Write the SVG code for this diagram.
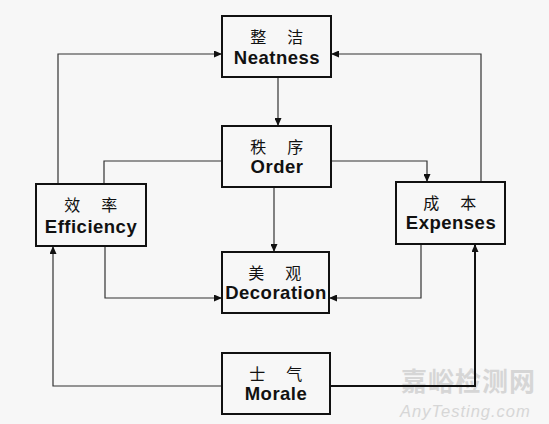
<svg xmlns="http://www.w3.org/2000/svg" width="549" height="424" viewBox="0 0 549 424">
<defs>
<marker id="ah" markerUnits="userSpaceOnUse" markerWidth="8" markerHeight="7" refX="8" refY="3.5" orient="auto">
<path d="M0,0 L8,3.5 L0,7 z" fill="#111"/>
</marker>
<style>
.box{fill:#f7f7f7;stroke:#111;stroke-width:2}
.zh{font-family:"Noto Sans CJK SC","Noto Sans CJK JP",sans-serif;font-size:16px;fill:#111;text-anchor:middle;letter-spacing:2.5px}
.en{font-family:"Liberation Sans",Arial,sans-serif;font-weight:bold;font-size:18.5px;letter-spacing:0.5px;fill:#111;text-anchor:middle}
.c{fill:none;stroke:#333;stroke-width:1.2}
.wm{fill:#d6d6d6;font-family:"Noto Sans CJK SC",sans-serif;font-weight:bold;font-size:26px}
.wm2{fill:#d6d6d6;font-family:"Liberation Sans",Arial,sans-serif;font-style:italic;font-size:16.5px;letter-spacing:1px}
</style>
</defs>
<rect width="549" height="424" fill="#f7f7f7"/>
<g id="watermark">
<text class="wm" x="401" y="391" letter-spacing="1">嘉峪检测网</text>
<text class="wm2" x="400" y="417">AnyTesting.com</text>
</g>
<g id="connectors">
<path class="c" d="M278,77 V126" marker-end="url(#ah)"/>
<path class="c" d="M58,184 V54 H222" marker-end="url(#ah)"/>
<path class="c" d="M481,182 V54 H331" marker-end="url(#ah)"/>
<path class="c" d="M222,161 H104 V184"/>
<path class="c" d="M331,161 H427 V182" marker-end="url(#ah)"/>
<path class="c" d="M274,187 V252" marker-end="url(#ah)"/>
<path class="c" d="M105,246 V298 H222" marker-end="url(#ah)"/>
<path class="c" d="M421,244 V298 H329" marker-end="url(#ah)"/>
<path class="c" d="M222,386 H53 V246" marker-end="url(#ah)"/>
<path class="c" d="M330,386 H475 V244" style="stroke:#111;stroke-width:2" marker-end="url(#ah)"/>
</g>
<g id="neatness">
<rect class="box" x="222" y="16" width="109" height="61"/>
<text class="zh" x="278" y="43" xml:space="preserve">整　洁</text>
<text class="en" x="277" y="64">Neatness</text>
</g>
<g id="order">
<rect class="box" x="222" y="126" width="109" height="61"/>
<text class="zh" x="278" y="153" xml:space="preserve">秩　序</text>
<text class="en" x="277" y="173">Order</text>
</g>
<g id="efficiency">
<rect class="box" x="36" y="184" width="110" height="62"/>
<text class="zh" x="92" y="211" xml:space="preserve">效　率</text>
<text class="en" x="91" y="233">Efficiency</text>
</g>
<g id="expenses">
<rect class="box" x="396" y="182" width="109" height="62"/>
<text class="zh" x="451" y="209" xml:space="preserve">成　本</text>
<text class="en" x="451" y="229">Expenses</text>
</g>
<g id="decoration">
<rect class="box" x="222" y="252" width="107" height="61"/>
<text class="zh" x="276" y="279" xml:space="preserve">美　观</text>
<text class="en" x="276" y="299">Decoration</text>
</g>
<g id="morale">
<rect class="box" x="222" y="353" width="108" height="61"/>
<text class="zh" x="277" y="380" xml:space="preserve">士　气</text>
<text class="en" x="276" y="400">Morale</text>
</g>
</svg>
